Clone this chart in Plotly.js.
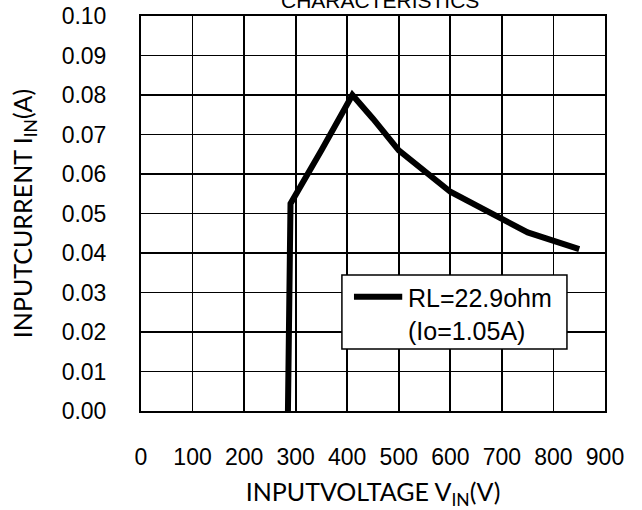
<!DOCTYPE html>
<html>
<head>
<meta charset="utf-8">
<script src="https://cdn.plot.ly/plotly-3.0.1.min.js"></script>
<style>html,body{margin:0;padding:0;background:#fff;}#chart{width:642px;height:510px;}</style>
</head>
<body>
<div id="chart"></div>
<script>
const chartTitle = "CHARACTERISTICS";
const seriesName = "RL=22.9ohm<br>(Io=1.05A)";
const inputVoltage = [285, 290, 350, 380, 410, 450, 500, 600, 700, 750, 850];
const inputCurrent = [0, 0.0525, 0.066, 0.073, 0.080, 0.074, 0.066, 0.0555, 0.0485, 0.0452, 0.041];
const xTickVals = [0, 100, 200, 300, 400, 500, 600, 700, 800, 900];
const xTickText = ["0", "100", "200", "300", "400", "500", "600", "700", "800", "900"];
const yTickVals = [0, 0.01, 0.02, 0.03, 0.04, 0.05, 0.06, 0.07, 0.08, 0.09, 0.10];
const yTickText = ["0.00", "0.01", "0.02", "0.03", "0.04", "0.05", "0.06", "0.07", "0.08", "0.09", "0.10"];

const tickFont = {family: "Liberation Sans, Arial, sans-serif", size: 23, color: "#000"};
const titleFont = {family: "Lato, Open Sans, sans-serif", size: 25, color: "#000"};

const trace = {
  x: inputVoltage,
  y: inputCurrent,
  type: "scatter",
  mode: "lines",
  name: seriesName,
  line: {color: "#000", width: 6},
  showlegend: false
};

const layout = {
  width: 642,
  height: 510,
  margin: {l: 141, r: 37, t: 16, b: 99},
  paper_bgcolor: "#fff",
  plot_bgcolor: "#fff",
  showlegend: false,
  xaxis: {
    range: [0, 900],
    tickvals: xTickVals,
    ticktext: xTickText,
    tickfont: tickFont,
    ticks: "outside",
    ticklen: 24,
    tickcolor: "rgba(0,0,0,0)",
    showgrid: true,
    gridcolor: "#000",
    gridwidth: 1.8,
    showline: true,
    linecolor: "#000",
    linewidth: 2,
    mirror: true,
    zeroline: false,
    fixedrange: true,
    title: {text: "INPUTVOLTAGE V<sub>IN</sub>(V)", font: titleFont, standoff: 16}
  },
  yaxis: {
    range: [0, 0.10],
    tickvals: yTickVals,
    ticktext: yTickText,
    tickfont: tickFont,
    ticks: "outside",
    ticklen: 28,
    tickcolor: "rgba(0,0,0,0)",
    showgrid: true,
    gridcolor: "#000",
    gridwidth: 1.8,
    showline: true,
    linecolor: "#000",
    linewidth: 2,
    mirror: true,
    zeroline: false,
    fixedrange: true,
    title: {text: "INPUTCURRENT I<sub>IN</sub>(A)", font: titleFont, standoff: 22}
  },
  shapes: [
    {type: "rect", xref: "paper", yref: "paper", x0: 0.433, x1: 0.918, y0: 0.157, y1: 0.344,
     fillcolor: "#fff", line: {color: "#000", width: 1.5}, layer: "above"},
    {type: "line", xref: "paper", yref: "paper", x0: 0.459, x1: 0.563, y0: 0.289, y1: 0.289,
     line: {color: "#000", width: 6}, layer: "above"}
  ],
  annotations: [
    {
      text: chartTitle,
      xref: "paper", yref: "paper",
      x: 0.515, y: 1.0405,
      xanchor: "center", yanchor: "middle",
      showarrow: false,
      font: {family: "Liberation Sans, Arial, sans-serif", size: 21, color: "#000"}
    },
    {
      text: seriesName,
      xref: "paper", yref: "paper",
      x: 0.572, y: 0.245,
      xanchor: "left", yanchor: "middle", align: "left",
      showarrow: false,
      font: {family: "Liberation Sans, Arial, sans-serif", size: 25, color: "#000"}
    }
  ]
};

Plotly.newPlot("chart", [trace], layout, {displayModeBar: false, staticPlot: true});
</script>
</body>
</html>
